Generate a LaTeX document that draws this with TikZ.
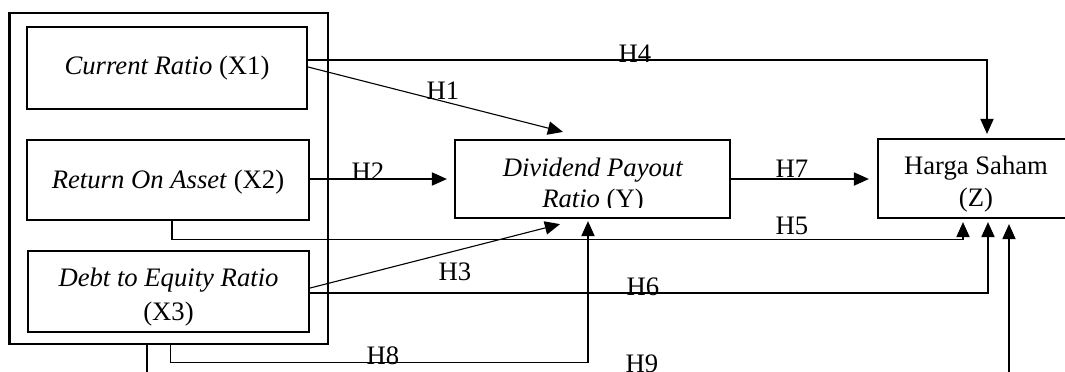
\documentclass[tikz,border=0pt]{standalone}
\usepackage{fontspec}
\setmainfont{Liberation Serif}
\usetikzlibrary{arrows.meta,calc}
\begin{document}
\begin{tikzpicture}[x=0.45pt,y=-0.45pt,
  every node/.style={font=\fontsize{12pt}{14.5pt}\selectfont},
  varbox/.style={draw,line width=1pt,inner sep=0pt,align=center},
  boxtext/.style={inner sep=0pt,align=center},
  outerbox/.style={draw,line width=1.2pt,inner sep=0pt},
  arr/.style={line width=0.5pt,-{Triangle[length=6.8pt,width=6pt]}},
  hlab/.style={inner sep=0pt}]
\useasboundingbox (0,0) rectangle (1065,371);
\clip (0,0) rectangle (1065,371);
% boxes
\node[outerbox,minimum width=143.3pt,minimum height=148.95pt] (G) at (168.75,178.5) {};
\node[varbox,minimum width=126pt,minimum height=36.9pt] (X1) at (167,68) {\textit{Current Ratio} (X1)};
\node[varbox,minimum width=126.9pt,minimum height=36pt] (X2) at (168,180) {};
\node[boxtext] (X2text) at (168,182) {\textit{Return On Asset} (X2)};
\node[varbox,minimum width=126.45pt,minimum height=36.45pt] (X3) at (168.5,291.5) {};
\node[boxtext,font=\fontsize{12pt}{15.3pt}\selectfont] (X3text) at (168.5,297) {\textit{Debt to Equity Ratio}\\(X3)};
\node[varbox,minimum width=123.75pt,minimum height=35.1pt] (Y) at (592.5,179) {};
\begin{scope}
\clip (455,140) rectangle (730,207.5);
\node[boxtext,font=\fontsize{12pt}{14pt}\selectfont] (Ytext) at (593,185.5) {\textit{Dividend Payout}\\\textit{Ratio} (Y)};
\end{scope}
\node[varbox,minimum width=88.2pt,minimum height=35.55pt] (Z) at (976,178.5) {};
\node[boxtext] (Ztext) at (976,184) {Harga Saham\\(Z)};
% connectors
\draw[arr] ($(X1.east)+(0,-8)$) -| ($(Z.north)+(11,-4)$);
\draw[arr] ($(X1.east)+(0,-1)$) -- ($(Y.north)+(-29.5,-7)$);
\draw[arr] (X2.east |- Y.west) -- ($(Y.west)+(-7,0)$);
\draw[arr] (Y.east) -- ($(Z.west |- Y.east)+(-8,0)$);
\draw[arr] ($(X2.south)+(4,0)$) |- ($(Z.south)+(-13,20)$) -- ($(Z.south)+(-13,3)$);
\draw[arr] ($(X3.east)+(0,1.5)$) -| ($(Z.south)+(12,3)$);
\draw[arr] ($(X3.east)+(0,-3.5)$) -- ($(Y.south)+(-32.5,5)$);
\draw[arr] ($(G.south)+(1.5,0)$) |- ($(Y.south)+(-4.5,143)$) -- ($(Y.south)+(-4.5,2)$);
\draw[arr] ($(G.south)+(-21.75,0)$) -- ++(0,50) -| ($(Z.south)+(33,5)$);
% labels
\node[hlab] (H4) at (635,54) {H4};
\node[hlab] (H1) at (443,91) {H1};
\node[hlab] (H2) at (368,172) {H2};
\node[hlab] (H7) at (792,169) {H7};
\node[hlab] (H5) at (792,226) {H5};
\node[hlab] (H3) at (455,272) {H3};
\node[hlab] (H6) at (643,287) {H6};
\node[hlab] (H8) at (383,356) {H8};
\node[hlab] (H9) at (642,364) {H9};
\end{tikzpicture}
\end{document}
